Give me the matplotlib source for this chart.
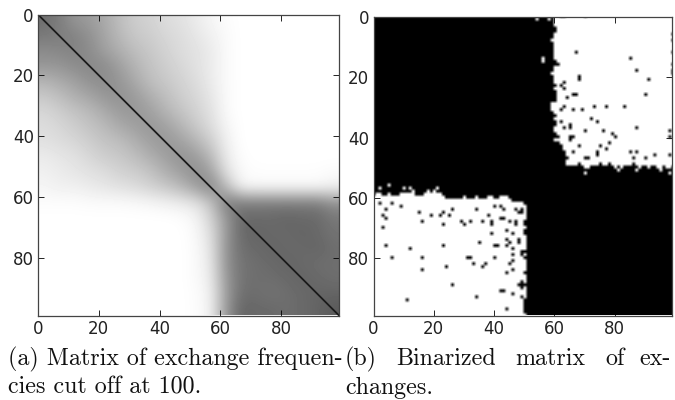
import matplotlib
matplotlib.use('Agg')
import matplotlib.pyplot as plt
import numpy as np

# grey level of the exchange frequency matrix, read every 5 cells
freq_rows = [
    [110,125,150,155,170,190,205,210,220,225,235,245,252,255,255,255,255,255,255,255],
    [120,125,130,145,165,185,200,205,215,220,230,240,250,255,255,255,255,255,255,255],
    [140,135,130,140,160,175,190,200,210,220,225,235,250,255,255,255,255,255,255,255],
    [150,150,140,135,140,160,180,195,205,215,225,235,250,255,255,255,255,255,255,255],
    [180,170,160,145,140,150,170,190,200,210,220,235,250,255,255,255,255,255,255,255],
    [200,190,175,165,150,145,155,175,190,205,215,230,250,255,255,255,255,255,255,255],
    [215,205,195,185,170,155,150,160,180,195,210,225,250,255,255,255,255,255,255,255],
    [220,215,205,195,185,170,160,150,160,180,200,220,245,255,255,255,255,255,255,255],
    [225,220,215,205,195,190,175,160,150,160,180,205,240,255,255,255,255,255,255,255],
    [235,230,225,215,205,200,190,175,160,145,155,185,235,253,255,255,255,255,255,255],
    [240,235,230,225,220,210,205,195,175,160,140,160,225,250,253,253,253,253,253,250],
    [245,240,240,235,230,225,220,210,200,185,160,130,185,245,248,248,248,248,248,240],
    [252,252,252,250,250,250,248,245,240,235,225,195,120,125,125,125,125,125,125,145],
    [255,255,255,255,255,255,255,255,255,253,245,210,150,105,105,105,100,105,105,120],
    [255,255,255,255,255,255,255,255,255,255,248,222,150,105,100,105,105,100,105,115],
    [255,255,255,255,255,255,255,255,255,255,250,228,145,110,105,100,105,105,100,110],
    [255,255,255,255,255,255,255,255,255,255,250,232,145,115,110,105,100,105,110,110],
    [255,255,255,255,255,255,255,255,255,255,250,236,150,115,110,110,105,100,105,110],
    [255,255,255,255,255,255,255,255,255,255,252,240,155,110,110,115,110,105,100,100],
    [255,255,255,255,255,255,255,255,255,255,252,242,150,100,105,105,110,105,100,90],
]
diag_cells = list(range(0, 100, 1))

# binarized matrix: first white column per row (rows 0-50), upper right block
upper_left_edge = [60,60,60,60,61,61,60,60,59,60,60,60,60,60,60,61,62,60,60,59,60,60,60,
                   61,60,61,61,61,61,59,59,59,60,61,60,61,61,60,60,61,62,60,62,63,63,64,
                   64,65,64,64,66]
# last white row per column (columns 60-99)
upper_bottom_edge = [44,44,44,44,49,49,49,49,48,49,50,50,49,49,49,48,49,49,48,49,50,49,50,
                     49,49,49,48,49,50,49,49,50,49,49,50,50,49,50,50,49]
# first white row per column (columns 0-50), lower left block
lower_top_edge = [60,59,59,60,60,59,60,60,60,59,59,59,59,59,60,60,60,59,59,59,59,59,59,60,
                  61,61,61,61,61,61,60,61,61,61,60,61,61,61,60,60,61,61,60,60,60,61,62,62,
                  62,62,62]
# last white column per row (rows 60-98)
lower_right_edge = [46,47,49,50,50,50,50,50,50,50,50,49,49,50,51,51,50,50,49,50,51,50,51,50,
                    50,49,50,50,50,50,51,50,50,50,51,49,49,49,49]
black_dots_col = [67,85,87,91,68,68,90,66,67,64,63,63,62,73,77,83,63,62,66,69,72,74,62,63,65,65,
                  70,76,87,79,80,98,98,65,65,66,78,75,77,68,66,74,74,85,87,93,98,86,90,70,71,
                  99,99,99,99,99,99,70,62,63,
                  2,6,9,4,3,4,3,15,16,19,22,23,25,26,23,29,30,32,34,36,38,39,39,40,42,43,42,43,
                  45,47,47,47,48,49,49,50,50,39,44,46,44,45,44,48,48,35,40,41,23,4,12,46,46,49,
                  49,50,6,16,31,32,40,33,37,36,24,16,46,45,46,44,26,49,48,50,49,49,42,43,46,34,
                  11,44,49,50]
black_dots_row = [12,14,18,21,20,21,26,26,26,27,22,24,23,30,30,30,30,31,31,31,34,35,35,37,36,37,
                  38,38,37,39,40,38,40,40,41,40,42,43,44,43,45,45,46,45,45,46,46,47,47,47,47,
                  6,8,12,16,18,19,0,0,0,
                  62,62,63,64,66,67,70,65,68,66,66,65,66,64,69,68,69,68,64,68,66,68,69,63,63,64,67,67,
                  68,64,68,69,65,65,64,68,69,72,71,72,74,75,76,74,75,75,76,76,76,76,77,77,79,78,
                  79,80,80,80,80,80,80,82,82,83,83,84,81,82,84,85,89,89,89,89,88,90,91,91,92,93,
                  94,97,93,94]
white_dots_col = [54,58,56,56,70,81,87,95,98,2,5,10,12,13,18,21,20]
white_dots_row = [1,1,14,15,52,51,51,51,52,57,56,57,57,58,58,57,58]
ticks = [0, 20, 40, 60, 80]

freq = np.array(freq_rows, dtype=float)
binary = np.zeros((100, 100))
for row, col in enumerate(upper_left_edge):
    binary[row, col:] = 1
for i, last in enumerate(upper_bottom_edge):
    binary[last + 1:, 60 + i] = 0
for col, first in enumerate(lower_top_edge):
    binary[first:, col] = 1
for i, last in enumerate(lower_right_edge):
    binary[60 + i, last + 1:60] = 0
binary[99, :51] = 1
binary[black_dots_row, black_dots_col] = 0
binary[white_dots_row, white_dots_col] = 1

fig = plt.figure(figsize=(6.75, 4), dpi=100)
W, H = 675.0, 400.0

ax1 = fig.add_axes([38 / W, 1 - 315.5 / H, 301 / W, 301 / H])
ax1.imshow(freq, cmap='gray', vmin=0, vmax=255, interpolation='bicubic',
           extent=(-0.5, 99.5, 99.5, -0.5), aspect='auto')
ax1.plot(diag_cells, diag_cells, color='#1a1a1a', lw=1.3)

ax2 = fig.add_axes([373.5 / W, 1 - 315.5 / H, 298.5 / W, 298.5 / H])
ax2.imshow(binary, cmap='gray', vmin=0, vmax=1, interpolation='bilinear',
           extent=(-0.5, 99.5, 99.5, -0.5), aspect='auto')

for ax in [ax1, ax2]:
    ax.set_xlim(0, 99)
    ax.set_ylim(99, 0)
    ax.set_xticks(ticks)
    ax.set_yticks(ticks)
    ax.tick_params(direction='in', length=4, width=0.6, top=True, right=True,
                   labelsize=12, pad=3, color='black', labelcolor='#222222')
    for s in ax.spines.values():
        s.set_linewidth(0.9)
        s.set_color('#444444')

# 图注，两端对齐，所以逐词摆放
caption_font = {'family': ['cmr10', 'DejaVu Serif'], 'fontsize': 17.3, 'color': '#111111'}
fig.text(8 / W, 1 - 365 / H, '(a) Matrix of exchange frequen-', **caption_font)
fig.text(8 / W, 1 - 394 / H, 'cies cut off at 100.', **caption_font)
for word, x in zip(['(b)', 'Binarized', 'matrix', 'of', 'ex-'], [345, 396, 515, 605, 639]):
    fig.text(x / W, 1 - 365 / H, word, **caption_font)
fig.text(345 / W, 1 - 394 / H, 'changes.', **caption_font)

fig.savefig('out.png', dpi=100)
